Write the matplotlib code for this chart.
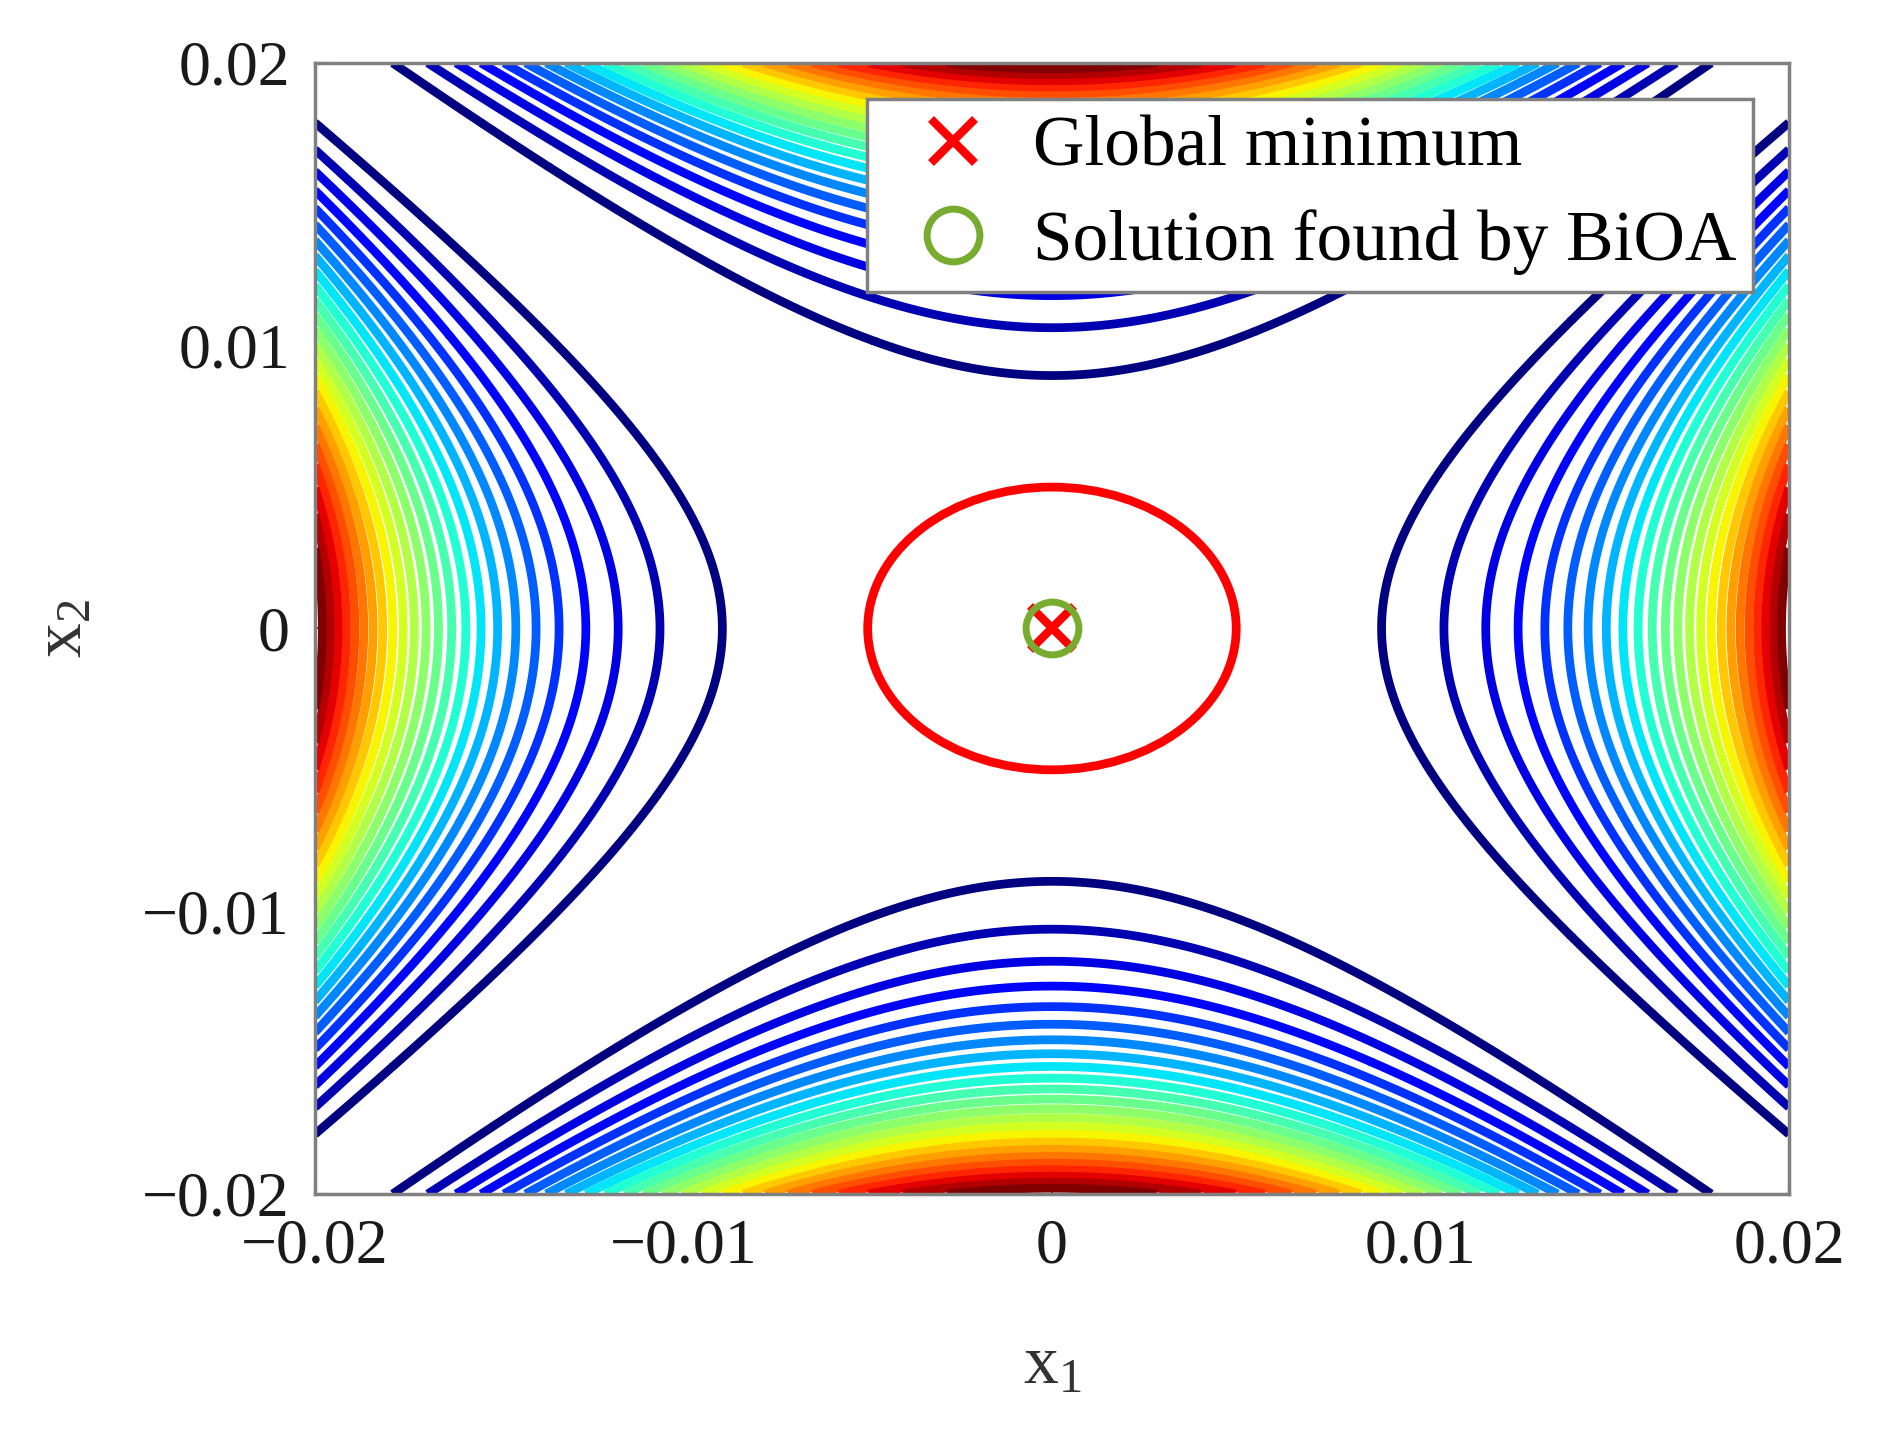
import numpy as np
import matplotlib
matplotlib.use("Agg")
import matplotlib.pyplot as plt
from matplotlib.patches import Circle
from matplotlib.lines import Line2D

# ---- data ----
x_range = [-0.02, 0.02]
y_range = [-0.02, 0.02]
contour_levels = [0.64e-8, 1.28e-8, 1.92e-8, 2.56e-8, 3.20e-8, 3.84e-8, 4.48e-8, 5.12e-8,
                  5.76e-8, 6.40e-8, 7.04e-8, 7.68e-8, 8.32e-8, 8.96e-8, 9.60e-8, 10.24e-8,
                  10.88e-8, 11.52e-8, 12.16e-8, 12.80e-8, 13.44e-8, 14.08e-8, 14.72e-8, 15.36e-8]
circle_radius = 0.005
global_min = [0.0, 0.0]
bioa_solution = [0.0, 0.0]
xticks = [-0.02, -0.01, 0, 0.01, 0.02]
xticklabels = ["\u22120.02", "\u22120.01", "0", "0.01", "0.02"]
yticks = [-0.02, -0.01, 0, 0.01, 0.02]
yticklabels = ["\u22120.02", "\u22120.01", "0", "0.01", "0.02"]
legend_labels = ["Global minimum", "Solution found by BiOA"]

plt.rcParams['font.family'] = ['Liberation Serif', 'DejaVu Serif']
plt.rcParams['mathtext.fontset'] = 'custom'
plt.rcParams['mathtext.rm'] = 'Liberation Serif'

fig = plt.figure(figsize=(18.79, 14.34), dpi=100)
ax = fig.add_axes([0.1676, 0.1674, 0.9521 - 0.1676, 0.9561 - 0.1674])

n = 1201
x1 = np.linspace(x_range[0], x_range[1], n)
x2 = np.linspace(y_range[0], y_range[1], n)
X1, X2 = np.meshgrid(x1, x2)
Z = (X1**2 - X2**2)**2

LW = 6.3
ax.contour(X1, X2, Z, levels=contour_levels, cmap='jet', linewidths=LW)
ax.add_patch(Circle((0, 0), circle_radius, fill=False, edgecolor=(1, 0, 0), lw=LW, zorder=3))

red = (1, 0, 0)
green = (0.466, 0.674, 0.188)
ax.plot([global_min[0]], [global_min[1]], linestyle='none', marker='x', ms=32,
        mew=6, color=red, zorder=5)
ax.plot([bioa_solution[0]], [bioa_solution[1]], linestyle='none', marker='o', ms=38,
        mew=5, mfc='none', mec=green, zorder=6)

ax.set_xlim(x_range)
ax.set_ylim(y_range)
ax.set_xticks(xticks)
ax.set_xticklabels(xticklabels)
ax.set_yticks(yticks)
ax.set_yticklabels(yticklabels)
ax.tick_params(direction='in', length=10, width=1.5, color='0.3', labelsize=46, pad=18,
               top=False, right=False)
for s in ax.spines.values():
    s.set_edgecolor('0.5')
    s.set_linewidth(2.5)

ax.set_xlabel(r"$\mathregular{x_1}$", fontsize=50, color='0.2', labelpad=42)
ax.set_ylabel(r"$\mathregular{x_2}$", fontsize=50, color='0.2', labelpad=33)
for lbl in ax.get_xticklabels() + ax.get_yticklabels():
    lbl.set_color('0.1')

handles = [Line2D([], [], linestyle='none', marker='x', ms=32, mew=6, color=red),
           Line2D([], [], linestyle='none', marker='o', ms=38, mew=5, mfc='none', mec=green)]
leg = ax.legend(handles, legend_labels, loc='upper right', fontsize=51.3, frameon=True,
                fancybox=False, framealpha=1, edgecolor='0.5', borderaxespad=0.5,
                handletextpad=0.14, borderpad=0.24, labelspacing=0.4, handlelength=1.95)
leg.get_frame().set_linewidth(2.5)
leg.set_zorder(10)

fig.savefig("out.png", dpi=100)
